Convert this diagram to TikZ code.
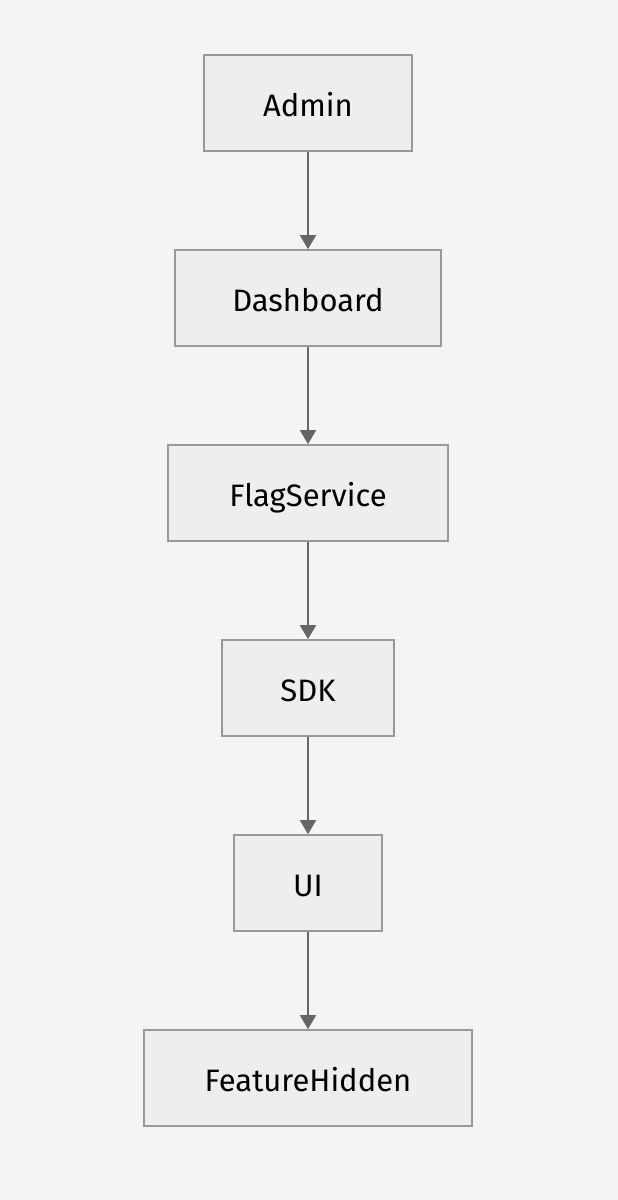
\documentclass[tikz,border=0pt]{standalone}
\usepackage{fontspec}
\setmainfont{Fira Sans}
\usetikzlibrary{arrows.meta}
\definecolor{bg}{HTML}{F4F4F4}
\definecolor{boxfill}{HTML}{EEEEEE}
\definecolor{boxline}{HTML}{999999}
\definecolor{arrowc}{HTML}{666666}
\tikzset{
  nodebox/.style={draw=boxline, fill=boxfill, line width=1.6pt, minimum height=96pt, anchor=center, inner sep=0pt, text height=26pt, text depth=0pt, font=\fontsize{31}{36}\selectfont, text=black},
  flow/.style={draw=arrowc, line width=1.6pt, -{Triangle[length=14pt,width=16pt]}}
}
\begin{document}
\begin{tikzpicture}[x=1pt,y=-1pt]
\fill[bg] (0,0) rectangle (618,1200);
\useasboundingbox (0,0) rectangle (618,1200);
\node[nodebox, minimum width=208pt] (admin) at (308,103) {Admin};
\node[nodebox, minimum width=266pt] (dash) at (308,298) {Dashboard};
\node[nodebox, minimum width=280pt] (flag) at (308,493) {FlagService};
\node[nodebox, minimum width=172pt] (sdk) at (308,688) {SDK};
\node[nodebox, minimum width=148pt] (ui) at (308,883) {UI};
\node[nodebox, minimum width=328pt] (fh) at (308,1078) {FeatureHidden};
\draw[flow] (admin) -- (dash);
\draw[flow] (dash) -- (flag);
\draw[flow] (flag) -- (sdk);
\draw[flow] (sdk) -- (ui);
\draw[flow] (ui) -- (fh);
\end{tikzpicture}
\end{document}
